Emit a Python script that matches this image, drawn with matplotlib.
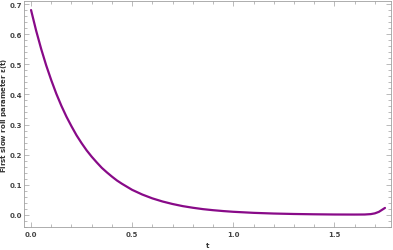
import numpy as np
import matplotlib
matplotlib.use("Agg")
import matplotlib.pyplot as plt
from matplotlib.ticker import MultipleLocator

# values
t = [0.000, 0.025, 0.050, 0.075, 0.100, 0.125, 0.150, 0.175, 0.200, 0.225,
     0.250, 0.275, 0.300, 0.325, 0.350, 0.375, 0.400, 0.425, 0.450, 0.475,
     0.50, 0.55, 0.60, 0.65, 0.70, 0.75, 0.80, 0.85, 0.90, 0.95,
     1.00, 1.10, 1.20, 1.30, 1.40, 1.50, 1.60, 1.65, 1.68, 1.70,
     1.72, 1.75]
eps = [0.680, 0.612, 0.551, 0.496, 0.447, 0.402, 0.362, 0.326, 0.294, 0.264,
       0.238, 0.214, 0.193, 0.174, 0.156, 0.141, 0.127, 0.114, 0.103, 0.093,
       0.083, 0.0675, 0.0547, 0.0444, 0.036, 0.029, 0.0236, 0.019, 0.0155, 0.0126,
       0.0102, 0.0067, 0.0044, 0.0029, 0.0019, 0.0012, 0.0010, 0.0012, 0.0025, 0.005,
       0.010, 0.023]

fig = plt.figure(figsize=(3.93, 2.51), dpi=100)
ax = fig.add_axes([0.061, 0.092, 0.934, 0.9])

ax.plot(t, eps, c='#880a88', lw=1.6, solid_capstyle='round')

ax.set_xlim(-0.035, 1.78)
ax.set_ylim(-0.04, 0.71)
ax.xaxis.set_major_locator(MultipleLocator(0.5))
ax.xaxis.set_minor_locator(MultipleLocator(0.1))
ax.yaxis.set_major_locator(MultipleLocator(0.1))
ax.yaxis.set_minor_locator(MultipleLocator(0.02))
ax.xaxis.set_major_formatter(plt.FuncFormatter(lambda v, p: f"{v:.1f}"))
ax.yaxis.set_major_formatter(plt.FuncFormatter(lambda v, p: f"{v:.1f}"))

for s in ax.spines.values():
    s.set_color('#a0a0a0')
    s.set_linewidth(0.6)
ax.tick_params(which='both', direction='in', top=True, right=True,
               color='#a0a0a0', width=0.5)
ax.tick_params(which='major', length=3.5, pad=3)
ax.tick_params(axis='y', which='major', pad=1.5)
ax.tick_params(which='minor', length=2)
for lab in ax.get_xticklabels() + ax.get_yticklabels():
    lab.set_fontsize(5)
    lab.set_fontweight('bold')
    lab.set_color('#444444')

ax.set_xlabel("t", fontsize=5, color='#333333', fontweight='bold')
ax.set_ylabel(r"First slow roll parameter $\mathbf{\epsilon}$(t)", fontsize=5,
              color='#333333', fontweight='bold')
ax.xaxis.set_label_coords(0.5, -0.066)
ax.yaxis.set_label_coords(-0.042, 0.5)

fig.savefig("out.png", dpi=100)
